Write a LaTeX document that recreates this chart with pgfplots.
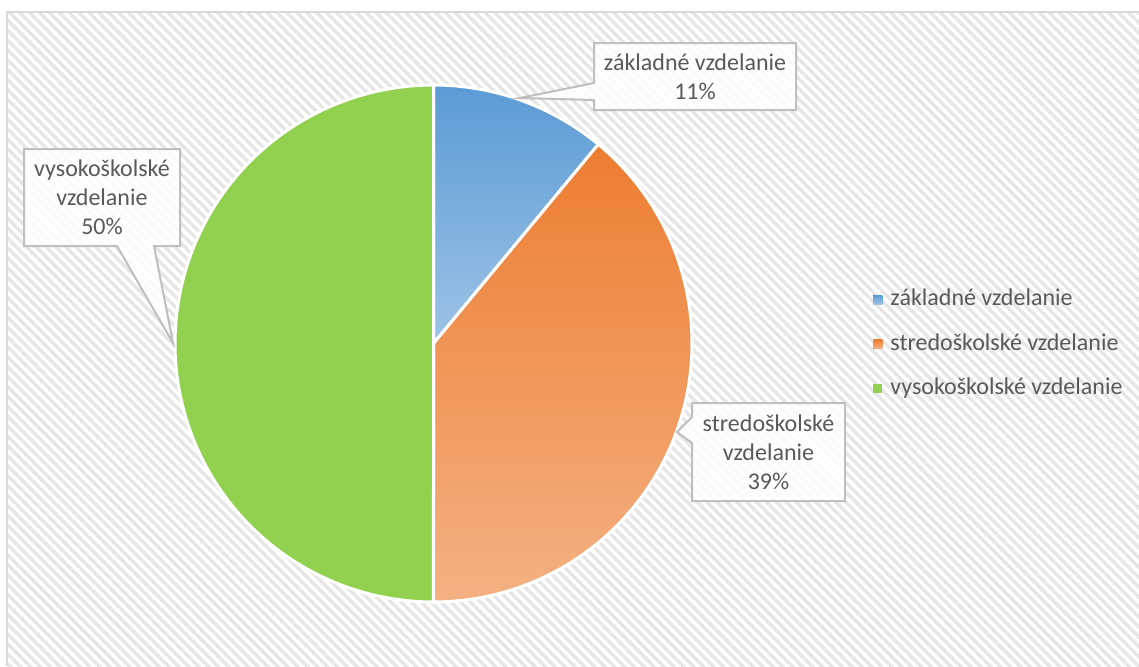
\documentclass[border=0pt]{standalone}
\usepackage{pgfplots}
\pgfplotsset{compat=1.18}
\usepackage{fontspec}
\setmainfont{Carlito}
\usetikzlibrary{patterns.meta}
\definecolor{txt}{HTML}{595959}
\definecolor{bluetop}{HTML}{5B9BD5}
\definecolor{bluebot}{HTML}{9DC3E6}
\definecolor{orgtop}{HTML}{ED7D31}
\definecolor{orgbot}{HTML}{F4B183}
\definecolor{grn}{HTML}{92D050}
\definecolor{hatch}{HTML}{E6E6E6}
\definecolor{frame}{HTML}{D9D9D9}
\definecolor{callb}{HTML}{BFBFBF}
% data (percent)
\def\valA{11}
\def\valB{39}
\def\valC{50}
\def\cx{433.5}
\def\cy{322.5}
\def\R{258.5}
\pgfmathsetmacro\aA{90-3.6*\valA}
\pgfmathsetmacro\aB{\aA-3.6*\valB}
\pgfmathsetmacro\aC{\aB-3.6*\valC}
\begin{document}
\begin{tikzpicture}
\begin{axis}[
  width=569.5pt, height=333pt, scale only axis,
  xmin=0, xmax=1139, ymin=0, ymax=666,
  hide axis, clip=true,
  legend style={draw=none, fill=none, at={(axis cs:873,322)}, anchor=west, inner sep=0pt,
    row sep=11.2pt, font=\fontsize{12pt}{14pt}\selectfont, text=txt,
    nodes={inner sep=0pt, text height=8.5pt, text depth=2.5pt},
    /tikz/every odd column/.append style={column sep=4pt}},
  legend cell align=left,
  legend image code/.code={\fill[#1, draw=none] (0pt,-2.25pt) rectangle (4.5pt,2.25pt);},
]
% background
\fill[white] (0,0) rectangle (1139,666);
\fill[pattern={Lines[angle=-45, distance=3.5pt, line width=1.7pt]}, pattern color=hatch] (7,0) rectangle (1139,654);
\draw[frame, line width=0.6pt] (7,0) -- (7,654) -- (1139,654);
% pie slices
\addplot[draw=white, line width=1.5pt, top color=bluetop, bottom color=bluebot, domain=\aA:90, samples=80]
  ({\cx+\R*cos(x)},{\cy+\R*sin(x)}) -- (\cx,\cy) -- cycle;
\addlegendentry{základné vzdelanie}
\addplot[draw=white, line width=1.5pt, top color=orgtop, bottom color=orgbot, domain=\aB:\aA, samples=120]
  ({\cx+\R*cos(x)},{\cy+\R*sin(x)}) -- (\cx,\cy) -- cycle;
\addlegendentry{stredoškolské vzdelanie}
\addplot[draw=white, line width=1.5pt, fill=grn, domain=\aC:\aB, samples=150]
  ({\cx+\R*cos(x)},{\cy+\R*sin(x)}) -- (\cx,\cy) -- cycle;
\addlegendentry{vysokoškolské vzdelanie}
% callouts
\filldraw[callb, line width=1pt, fill=white, fill opacity=0.85]
  (594,623) -- (796,623) -- (796,556) -- (594,556) -- (594,566) -- (520,568) -- (594,583) -- cycle;
\node[text=txt, align=center, font=\fontsize{12pt}{14.5pt}\selectfont] at (695,589.5) {základné vzdelanie\\11\%};
\filldraw[callb, line width=1pt, fill=white, fill opacity=0.85]
  (24,517) -- (180,517) -- (180,420) -- (154,420) -- (173,323) -- (117,420) -- (24,420) -- cycle;
\node[text=txt, align=center, font=\fontsize{12pt}{14.5pt}\selectfont] at (102,468.5) {vysokoškolské\\vzdelanie\\50\%};
\filldraw[callb, line width=1pt, fill=white, fill opacity=0.85]
  (692,263) -- (845,263) -- (845,165) -- (692,165) -- (692,223) -- (677,234) -- (692,249) -- cycle;
\node[text=txt, align=center, font=\fontsize{12pt}{14.5pt}\selectfont] at (768.5,214) {stredoškolské\\vzdelanie\\39\%};
\end{axis}
\end{tikzpicture}
\end{document}
